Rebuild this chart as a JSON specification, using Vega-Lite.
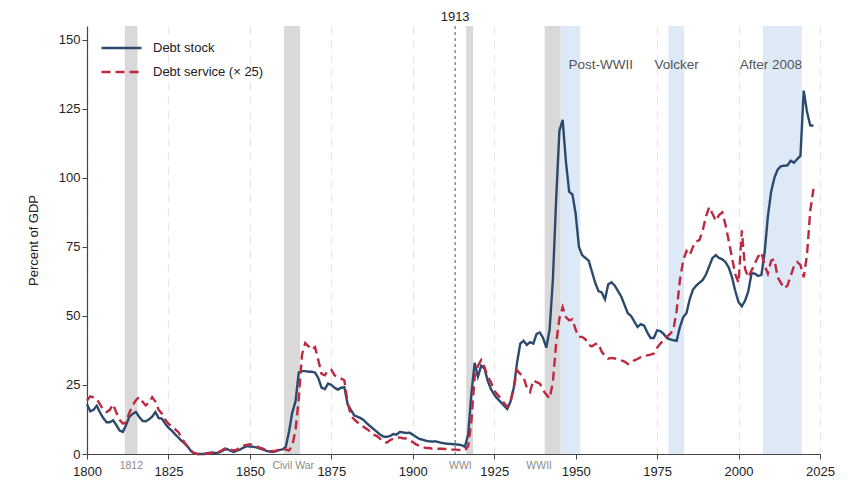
{
  "$schema": "https://vega.github.io/schema/vega-lite/v6.json",
  "width": 733,
  "height": 428,
  "autosize": "none",
  "padding": {"left": 87, "top": 26, "right": 38, "bottom": 42},
  "background": "white",
  "datasets": {
    "debt": [
      {"year":1800,"stock":18,"service":19.4},{"year":1801,"stock":15.5,"service":20.9},{"year":1802,"stock":16,"service":20.5},{"year":1803,"stock":17.5,"service":20},{"year":1804,"stock":15,"service":18},
      {"year":1805,"stock":13,"service":16},{"year":1806,"stock":11.5,"service":15.2},{"year":1807,"stock":11.5,"service":16},{"year":1808,"stock":12.2,"service":18},{"year":1809,"stock":10.5,"service":15},
      {"year":1810,"stock":8.5,"service":12.4},{"year":1811,"stock":8,"service":11},{"year":1812,"stock":10.5,"service":11.5},{"year":1813,"stock":13.5,"service":15},{"year":1814,"stock":14.5,"service":17.5},
      {"year":1815,"stock":15.2,"service":19.5},{"year":1816,"stock":13.5,"service":20.6},{"year":1817,"stock":12,"service":19},{"year":1818,"stock":11.8,"service":17.6},{"year":1819,"stock":12.5,"service":18.5},
      {"year":1820,"stock":13.5,"service":20.6},{"year":1821,"stock":15.2,"service":19},{"year":1822,"stock":13,"service":16},{"year":1823,"stock":12.8,"service":14.6},{"year":1824,"stock":11,"service":12.5},
      {"year":1825,"stock":9.5,"service":11},{"year":1826,"stock":8.5,"service":10},{"year":1827,"stock":7.2,"service":9},{"year":1828,"stock":6,"service":8},{"year":1829,"stock":4.8,"service":6},
      {"year":1830,"stock":3.8,"service":4},{"year":1831,"stock":2.5,"service":2.5},{"year":1832,"stock":1,"service":1},{"year":1833,"stock":0.2,"service":0.3},{"year":1834,"stock":0,"service":0},
      {"year":1835,"stock":0,"service":0},{"year":1836,"stock":0,"service":0},{"year":1837,"stock":0.3,"service":0.2},{"year":1838,"stock":0.5,"service":0.4},{"year":1839,"stock":0.4,"service":0.4},
      {"year":1840,"stock":0.4,"service":0.6},{"year":1841,"stock":0.8,"service":1},{"year":1842,"stock":1.5,"service":1.8},{"year":1843,"stock":1.8,"service":2.3},{"year":1844,"stock":1.2,"service":1.6},
      {"year":1845,"stock":0.7,"service":1.3},{"year":1846,"stock":1.2,"service":1.6},{"year":1847,"stock":1.6,"service":2.4},{"year":1848,"stock":2.3,"service":3},{"year":1849,"stock":2.8,"service":3.3},
      {"year":1850,"stock":2.7,"service":3.5},{"year":1851,"stock":2.6,"service":3.2},{"year":1852,"stock":2.4,"service":2.8},{"year":1853,"stock":2,"service":2.3},{"year":1854,"stock":1.6,"service":1.9},
      {"year":1855,"stock":1.2,"service":1.5},{"year":1856,"stock":0.9,"service":1.1},{"year":1857,"stock":0.7,"service":1},{"year":1858,"stock":1,"service":1.2},{"year":1859,"stock":1.4,"service":1.6},
      {"year":1860,"stock":1.7,"service":1.9},{"year":1861,"stock":2.5,"service":1.6},{"year":1862,"stock":8,"service":1.3},{"year":1863,"stock":15,"service":3},{"year":1864,"stock":19,"service":8.6},
      {"year":1865,"stock":29.5,"service":20},{"year":1866,"stock":30,"service":36},{"year":1867,"stock":30,"service":40.2},{"year":1868,"stock":29.8,"service":39},{"year":1869,"stock":29.8,"service":37.8},
      {"year":1870,"stock":29.5,"service":38.7},{"year":1871,"stock":27.5,"service":34},{"year":1872,"stock":24,"service":29},{"year":1873,"stock":23.5,"service":28.5},{"year":1874,"stock":25.5,"service":30.3},
      {"year":1875,"stock":25,"service":30.5},{"year":1876,"stock":24,"service":28.5},{"year":1877,"stock":23.3,"service":27.9},{"year":1878,"stock":24,"service":27.3},{"year":1879,"stock":24.2,"service":26.7},
      {"year":1880,"stock":18,"service":18.5},{"year":1881,"stock":16,"service":14},{"year":1882,"stock":14,"service":12.5},{"year":1883,"stock":13.5,"service":11.5},{"year":1884,"stock":13,"service":10.4},
      {"year":1885,"stock":12.2,"service":9.8},{"year":1886,"stock":11,"service":9},{"year":1887,"stock":10,"service":8},{"year":1888,"stock":9,"service":7},{"year":1889,"stock":8,"service":6.5},
      {"year":1890,"stock":7,"service":5.5},{"year":1891,"stock":6.3,"service":4.5},{"year":1892,"stock":6.2,"service":4.1},{"year":1893,"stock":6.5,"service":5},{"year":1894,"stock":7.2,"service":5.5},
      {"year":1895,"stock":7,"service":5.8},{"year":1896,"stock":8,"service":6},{"year":1897,"stock":7.8,"service":5.7},{"year":1898,"stock":7.6,"service":5.6},{"year":1899,"stock":7.7,"service":5},
      {"year":1900,"stock":7,"service":4.3},{"year":1901,"stock":6.2,"service":3.5},{"year":1902,"stock":5.5,"service":3},{"year":1903,"stock":5.2,"service":2.5},{"year":1904,"stock":4.8,"service":2.2},
      {"year":1905,"stock":4.6,"service":2.2},{"year":1906,"stock":4.5,"service":1.9},{"year":1907,"stock":4.6,"service":1.9},{"year":1908,"stock":4.3,"service":1.9},{"year":1909,"stock":4,"service":1.9},
      {"year":1910,"stock":3.8,"service":1.8},{"year":1911,"stock":3.7,"service":1.7},{"year":1912,"stock":3.6,"service":1.6},{"year":1913,"stock":3.5,"service":1.6},{"year":1914,"stock":3.4,"service":1.5},
      {"year":1915,"stock":3.2,"service":1.4},{"year":1916,"stock":2.6,"service":1.3},{"year":1917,"stock":7,"service":2.8},{"year":1918,"stock":22,"service":12},{"year":1919,"stock":33,"service":28},
      {"year":1920,"stock":28,"service":32},{"year":1921,"stock":32,"service":34},{"year":1922,"stock":31,"service":31.5},{"year":1923,"stock":26.5,"service":28},{"year":1924,"stock":23.5,"service":26},
      {"year":1925,"stock":21.5,"service":23},{"year":1926,"stock":20,"service":21.5},{"year":1927,"stock":18.8,"service":20.1},{"year":1928,"stock":17.5,"service":18.5},{"year":1929,"stock":16.3,"service":17.1},
      {"year":1930,"stock":19,"service":19},{"year":1931,"stock":24,"service":24},{"year":1932,"stock":33,"service":30.3},{"year":1933,"stock":40,"service":29},{"year":1934,"stock":41,"service":27.9},
      {"year":1935,"stock":39.5,"service":24},{"year":1936,"stock":40.5,"service":22.5},{"year":1937,"stock":40,"service":26.7},{"year":1938,"stock":43.5,"service":26},{"year":1939,"stock":44,"service":25.5},
      {"year":1940,"stock":42,"service":23.1},{"year":1941,"stock":38.5,"service":21.5},{"year":1942,"stock":45,"service":20.1},{"year":1943,"stock":63,"service":26},{"year":1944,"stock":92,"service":40},
      {"year":1945,"stock":117,"service":49},{"year":1946,"stock":121,"service":53.2},{"year":1947,"stock":106,"service":49.6},{"year":1948,"stock":95,"service":48.4},{"year":1949,"stock":94,"service":48.8},
      {"year":1950,"stock":87,"service":45},{"year":1951,"stock":75,"service":42.4},{"year":1952,"stock":72,"service":42.4},{"year":1953,"stock":71,"service":41.5},{"year":1954,"stock":70,"service":39.5},
      {"year":1955,"stock":66,"service":39},{"year":1956,"stock":62,"service":39.8},{"year":1957,"stock":59,"service":40},{"year":1958,"stock":58.5,"service":37},{"year":1959,"stock":56,"service":35.5},
      {"year":1960,"stock":61.5,"service":34.5},{"year":1961,"stock":62.2,"service":34.8},{"year":1962,"stock":61,"service":34.6},{"year":1963,"stock":59,"service":34.2},{"year":1964,"stock":57,"service":33.9},
      {"year":1965,"stock":54,"service":33.5},{"year":1966,"stock":51,"service":32.6},{"year":1967,"stock":50,"service":33},{"year":1968,"stock":48,"service":33.9},{"year":1969,"stock":46,"service":34.4},
      {"year":1970,"stock":47,"service":35.1},{"year":1971,"stock":46.5,"service":35.6},{"year":1972,"stock":44,"service":35.7},{"year":1973,"stock":42,"service":36},{"year":1974,"stock":42,"service":36.4},
      {"year":1975,"stock":44.8,"service":38.5},{"year":1976,"stock":44.5,"service":40},{"year":1977,"stock":43.5,"service":41.2},{"year":1978,"stock":42,"service":42.5},{"year":1979,"stock":41.5,"service":43.5},
      {"year":1980,"stock":41.2,"service":45},{"year":1981,"stock":41,"service":52},{"year":1982,"stock":46,"service":63},{"year":1983,"stock":49.5,"service":70},{"year":1984,"stock":51,"service":73.5},
      {"year":1985,"stock":56,"service":72},{"year":1986,"stock":59.5,"service":75},{"year":1987,"stock":61,"service":77},{"year":1988,"stock":62,"service":77.5},{"year":1989,"stock":63,"service":81},
      {"year":1990,"stock":65,"service":86},{"year":1991,"stock":68,"service":89.4},{"year":1992,"stock":71,"service":87},{"year":1993,"stock":72,"service":84.5},{"year":1994,"stock":71,"service":86.5},
      {"year":1995,"stock":70.5,"service":87.5},{"year":1996,"stock":69.5,"service":83},{"year":1997,"stock":67.5,"service":77},{"year":1998,"stock":64,"service":71},{"year":1999,"stock":59,"service":65},
      {"year":2000,"stock":55,"service":62},{"year":2001,"stock":53.5,"service":81},{"year":2002,"stock":55.5,"service":67},{"year":2003,"stock":59,"service":64},{"year":2004,"stock":65.5,"service":66.5},
      {"year":2005,"stock":65.3,"service":69},{"year":2006,"stock":64.5,"service":71.5},{"year":2007,"stock":64.8,"service":73},{"year":2008,"stock":73,"service":68.3},{"year":2009,"stock":86,"service":65.3},
      {"year":2010,"stock":95,"service":70},{"year":2011,"stock":100,"service":70.5},{"year":2012,"stock":103,"service":64},{"year":2013,"stock":104.2,"service":62},{"year":2014,"stock":104.4,"service":60},
      {"year":2015,"stock":104.5,"service":61},{"year":2016,"stock":106.2,"service":64.5},{"year":2017,"stock":105.5,"service":68},{"year":2018,"stock":106.8,"service":69.5},{"year":2019,"stock":108,"service":68.5},
      {"year":2020,"stock":131.6,"service":64},{"year":2021,"stock":124,"service":72},{"year":2022,"stock":119,"service":88},{"year":2023,"stock":118.9,"service":96}
    ],
    "bands": [
      {"start":1811.6,"end":1815.5,"kind":"war"},
      {"start":1860.5,"end":1865.4,"kind":"war"},
      {"start":1916.4,"end":1918.5,"kind":"war"},
      {"start":1940.5,"end":1945.4,"kind":"war"},
      {"start":1945.4,"end":1951.4,"kind":"episode"},
      {"start":1978.5,"end":1983.3,"kind":"episode"},
      {"start":2007.5,"end":2019.4,"kind":"episode"}
    ],
    "warLabels": [
      {"year":1813.6,"label":"1812"},
      {"year":1863.3,"label":"Civil War"},
      {"year":1914.6,"label":"WWI"},
      {"year":1938.8,"label":"WWII"}
    ],
    "episodeLabels": [
      {"year":1957.7,"value":140.7,"label":"Post-WWII"},
      {"year":1981,"value":140.7,"label":"Volcker"},
      {"year":2009.9,"value":140.7,"label":"After 2008"}
    ]
  },
  "layer": [
    {
      "data": {"name": "bands"},
      "transform": [{"filter": "datum.kind == 'war'"}],
      "mark": {"type": "rect", "color": "#d9d9d9"},
      "encoding": {
        "x": {"field": "start", "type": "quantitative"},
        "x2": {"field": "end"}
      }
    },
    {
      "data": {"name": "bands"},
      "transform": [{"filter": "datum.kind == 'episode'"}],
      "mark": {"type": "rect", "color": "#dde9f6"},
      "encoding": {
        "x": {"field": "start", "type": "quantitative"},
        "x2": {"field": "end"}
      }
    },
    {
      "data": {"values": [{"year": 1913}]},
      "mark": {"type": "rule", "color": "#555555", "strokeDash": [3, 3], "strokeWidth": 1},
      "encoding": {"x": {"field": "year", "type": "quantitative"}}
    },
    {
      "data": {"values": [{"year": 1913, "value": 155, "label": "1913"}]},
      "mark": {"type": "text", "baseline": "bottom", "dy": -2, "fontSize": 13, "font": "Liberation Sans", "color": "#222222"},
      "encoding": {
        "x": {"field": "year", "type": "quantitative"},
        "y": {"field": "value", "type": "quantitative"},
        "text": {"field": "label"}
      }
    },
    {
      "data": {"name": "debt"},
      "transform": [{"fold": ["stock", "service"], "as": ["series", "value"]}],
      "mark": {"type": "line", "strokeWidth": 2.4},
      "encoding": {
        "x": {
          "field": "year",
          "type": "quantitative",
          "title": null,
          "scale": {"domain": [1800, 2025], "nice": false, "zero": false},
          "axis": {
            "values": [1800, 1825, 1850, 1875, 1900, 1925, 1950, 1975, 2000, 2025],
            "format": "d",
            "labelFlush": false,
            "labelPadding": 6,
            "grid": true,
            "gridColor": "#e6e6e6",
            "gridDash": [8, 6],
            "gridWidth": 1.2
          }
        },
        "y": {
          "field": "value",
          "type": "quantitative",
          "title": "Percent of GDP",
          "scale": {"domain": [0, 155], "nice": false},
          "axis": {"values": [0, 25, 50, 75, 100, 125, 150], "grid": false, "titlePadding": 18}
        },
        "color": {
          "field": "series",
          "type": "nominal",
          "scale": {"domain": ["stock", "service"], "range": ["#2c4a6e", "#bd2a40"]},
          "legend": {
            "title": null,
            "orient": "none",
            "legendX": 13,
            "legendY": 14,
            "symbolType": "stroke",
            "symbolSize": 1600,
            "symbolStrokeWidth": 2.4,
            "clipHeight": 16,
            "labelFontSize": 13,
            "labelFont": "Liberation Sans",
            "labelColor": "#222222",
            "rowPadding": 8,
            "labelOffset": 10,
            "labelExpr": "datum.value == 'stock' ? 'Debt stock' : 'Debt service (× 25)'"
          }
        },
        "strokeDash": {
          "field": "series",
          "type": "nominal",
          "scale": {"domain": ["stock", "service"], "range": [[1, 0], [9, 5]]},
          "legend": {
            "title": null,
            "orient": "none",
            "legendX": 13,
            "legendY": 14,
            "symbolType": "stroke",
            "symbolSize": 1600,
            "symbolStrokeWidth": 2.4,
            "clipHeight": 16,
            "labelFontSize": 13,
            "labelFont": "Liberation Sans",
            "labelColor": "#222222",
            "rowPadding": 8,
            "labelOffset": 10,
            "labelExpr": "datum.value == 'stock' ? 'Debt stock' : 'Debt service (× 25)'"
          }
        }
      }
    },
    {
      "data": {"name": "warLabels"},
      "mark": {"type": "text", "baseline": "top", "dy": 7, "fontSize": 10.5, "font": "Liberation Sans", "color": "#8c8c8c"},
      "encoding": {
        "x": {"field": "year", "type": "quantitative"},
        "y": {"datum": 0, "type": "quantitative"},
        "text": {"field": "label"}
      }
    },
    {
      "data": {"name": "episodeLabels"},
      "mark": {"type": "text", "fontSize": 13.5, "font": "Liberation Sans", "color": "#555555"},
      "encoding": {
        "x": {"field": "year", "type": "quantitative"},
        "y": {"field": "value", "type": "quantitative"},
        "text": {"field": "label"}
      }
    }
  ],
  "config": {
    "view": {"stroke": null},
    "font": "Liberation Sans",
    "axis": {
      "labelFontSize": 13,
      "labelColor": "#222222",
      "labelFont": "Liberation Sans",
      "titleFont": "Liberation Sans",
      "titleFontSize": 13,
      "titleFontWeight": "normal",
      "titleColor": "#222222",
      "domainColor": "#444444",
      "domainWidth": 1.2,
      "tickColor": "#444444",
      "tickSize": 5
    }
  }
}
